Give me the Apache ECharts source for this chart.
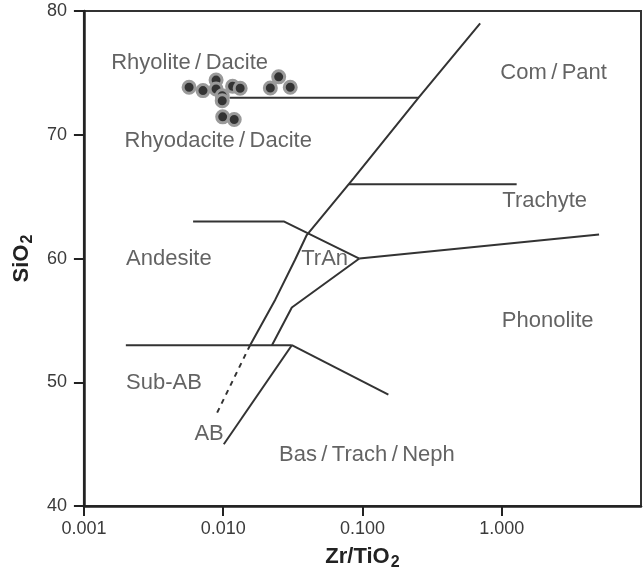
<!DOCTYPE html>
<html><head><meta charset="utf-8">
<script src="https://cdn.jsdelivr.net/npm/echarts@6/dist/echarts.min.js"></script>
<style>html,body{margin:0;padding:0;background:#fff}#c{width:643px;height:576px}</style>
</head><body><div id="c"></div>
<script>
// Tick labels
const xTickValues = [0.001, 0.01, 0.1, 1];
const xTickLabels = ['0.001', '0.010', '0.100', '1.000'];
const yTickLabels = ['40', '50', '60', '70', '80'];

// Field boundaries [Zr/TiO2, SiO2]
const lineRhyolite   = [[0.0111, 73], [0.253, 73]];
const lineMainUpper  = [[0.70, 79], [0.253, 73], [0.0866, 66.5], [0.0398, 61.9], [0.0328, 59.9], [0.0237, 56.7], [0.0156, 53]];
const lineMainDashed = [[0.0156, 53], [0.0090, 47.5]];
const lineTrachyte   = [[0.080, 66], [1.28, 66]];
const lineTrAnUpper  = [[0.00608, 63], [0.0272, 63], [0.095, 60]];
const lineTrAnLower  = [[0.0224, 53], [0.0311, 56.05], [0.095, 60]];
const linePhonolite  = [[0.095, 60], [5.0, 61.94]];
const lineSubAB      = [[0.0020, 53], [0.0311, 53]];
const lineBasalt     = [[0.0311, 53], [0.1535, 49]];
const lineAB         = [[0.0101, 45], [0.0311, 53]];

// Samples
const sampleZrTiO2 = [0.00569, 0.00716, 0.00889, 0.00889, 0.00984, 0.00984, 0.01168, 0.01324, 0.0218, 0.02503, 0.0303, 0.00992, 0.0120];
const sampleSiO2   = [73.84, 73.57, 74.42, 73.70, 73.15, 72.75, 73.92, 73.76, 73.78, 74.68, 73.84, 71.45, 71.23];

// Field names and their anchor positions
const fieldNames = ['Rhyolite\u2009/\u2009Dacite', 'Rhyodacite\u2009/\u2009Dacite', 'Com\u2009/\u2009Pant', 'Trachyte', 'Phonolite', 'Andesite', 'TrAn', 'Sub-AB', 'AB', 'Bas\u2009/\u2009Trach\u2009/\u2009Neph'];
const fieldX = [0.00574, 0.00922, 2.357, 2.035, 2.137, 0.00407, 0.0535, 0.003754, 0.00792, 0.1076];
const fieldY = [75.77, 69.48, 74.98, 64.68, 54.99, 59.98, 59.95, 49.95, 45.84, 44.1];

const FONT = '"Liberation Sans", Arial, Helvetica, sans-serif';
const LINE_COLOR = '#333';

function boundary(data, dashed) {
  return {
    type: 'line', data: data, symbol: 'none', silent: true, z: 3,
    lineStyle: { color: LINE_COLOR, width: 2, type: dashed ? [5, 5] : 'solid' },
    animation: false
  };
}

const chart = echarts.init(document.getElementById('c'), null, { renderer: 'canvas' });
chart.setOption({
  animation: false,
  backgroundColor: '#fff',
  grid: { left: 79, right: 2, top: 11, bottom: 63, show: true, borderColor: '#333', borderWidth: 2, backgroundColor: 'transparent' },
  xAxis: {
    type: 'log', logBase: 10, min: 0.001, max: 10,
    name: '{a|Zr/TiO}{b|2}', nameLocation: 'middle', nameGap: 37,
    nameTextStyle: {
      rich: {
        a: { fontFamily: FONT, fontSize: 22, fontWeight: 'bold', color: '#222', lineHeight: 26 },
        b: { fontFamily: FONT, fontSize: 16, fontWeight: 'bold', color: '#222', lineHeight: 26, padding: [12, 0, 0, 1] }
      }
    },
    axisLine: { show: true, onZero: false, lineStyle: { color: '#222', width: 2.5 } },
    axisTick: { show: true, inside: false, length: 10, customValues: xTickValues, lineStyle: { color: '#222', width: 2 } },
    minorTick: { show: false },
    splitLine: { show: false },
    axisLabel: {
      fontFamily: FONT, fontSize: 18, color: '#3a3a3a', margin: 14, customValues: xTickValues,
      formatter: function (v) {
        for (let i = 0; i < xTickValues.length; i++) {
          if (Math.abs(Math.log10(v) - Math.log10(xTickValues[i])) < 1e-6) return xTickLabels[i];
        }
        return '';
      }
    }
  },
  yAxis: {
    type: 'value', min: 40, max: 80, interval: 10,
    name: '{a|SiO}{b|2}', nameLocation: 'middle', nameGap: 44, nameRotate: 90,
    nameTextStyle: {
      rich: {
        a: { fontFamily: FONT, fontSize: 22, fontWeight: 'bold', color: '#222', lineHeight: 26 },
        b: { fontFamily: FONT, fontSize: 16, fontWeight: 'bold', color: '#222', lineHeight: 26, padding: [12, 0, 0, 1] }
      }
    },
    axisLine: { show: true, onZero: false, lineStyle: { color: '#222', width: 2.5 } },
    axisTick: { show: true, inside: false, length: 10, lineStyle: { color: '#222', width: 2 } },
    splitLine: { show: false },
    axisLabel: {
      fontFamily: FONT, fontSize: 18, color: '#3a3a3a', margin: 17,
      formatter: function (v) { const i = yTickLabels.indexOf(String(v)); return i >= 0 ? yTickLabels[i] : ''; }
    }
  },
  series: [
    boundary(lineRhyolite), boundary(lineMainUpper), boundary(lineMainDashed, true),
    boundary(lineTrachyte), boundary(lineTrAnUpper), boundary(lineTrAnLower),
    boundary(linePhonolite), boundary(lineSubAB), boundary(lineBasalt), boundary(lineAB),
    {
      type: 'scatter', silent: true, z: 4,
      data: fieldNames.map((n, i) => ({ value: [fieldX[i], fieldY[i]], name: n })),
      symbol: 'circle', symbolSize: 1,
      itemStyle: { color: 'rgba(0,0,0,0)' },
      label: {
        show: true, position: 'inside', formatter: p => p.name,
        fontFamily: FONT, fontSize: 22, color: '#3c3c3c', align: 'center', verticalAlign: 'middle'
      }
    },
    {
      type: 'scatter', silent: true, z: 5,
      data: sampleZrTiO2.map((x, i) => [x, sampleSiO2[i]]),
      symbol: 'circle', symbolSize: 12,
      itemStyle: { color: '#333', borderColor: '#9a9a9a', borderWidth: 3, opacity: 1 }
    }
  ]
});
</script>
</body></html>
